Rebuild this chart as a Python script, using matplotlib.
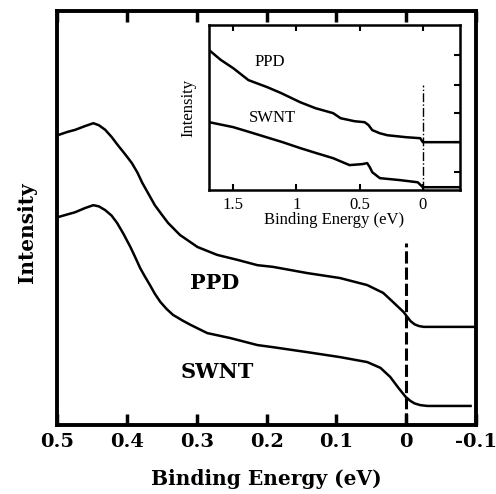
import matplotlib
matplotlib.use("Agg")
import matplotlib.pyplot as plt

# main panel: binding energy (eV) and intensity (arb. units)
ppd_e = [0.499, 0.485, 0.474, 0.460, 0.448, 0.440, 0.431, 0.422, 0.413, 0.403,
         0.393, 0.385, 0.378, 0.369, 0.360, 0.350, 0.341, 0.324,
         0.299, 0.271, 0.242, 0.213, 0.191, 0.142, 0.095, 0.056, 0.033, 0.019,
         0.004, -0.006, -0.012, -0.018, -0.025, -0.100]
ppd_i = [7.00, 7.08, 7.13, 7.22, 7.29, 7.24, 7.13, 6.96, 6.76, 6.55,
         6.33, 6.10, 5.85, 5.58, 5.31, 5.08, 4.88, 4.59,
         4.30, 4.11, 3.99, 3.86, 3.82, 3.67, 3.55, 3.38, 3.19, 2.97,
         2.73, 2.51, 2.43, 2.39, 2.37, 2.37]

swnt_e = [0.499, 0.474, 0.460, 0.448, 0.440, 0.431, 0.422, 0.414, 0.405, 0.395,
          0.388, 0.381, 0.374, 0.367, 0.360, 0.352, 0.343, 0.334,
          0.320, 0.309, 0.285, 0.252, 0.213, 0.191, 0.142, 0.095, 0.056, 0.037,
          0.023, 0.011, 0.001, -0.006, -0.012, -0.020, -0.030, -0.092]
swnt_i = [5.02, 5.14, 5.24, 5.31, 5.28, 5.19, 5.06, 4.88, 4.62, 4.30,
          4.05, 3.79, 3.58, 3.38, 3.17, 2.97, 2.80, 2.66,
          2.52, 2.42, 2.22, 2.10, 1.93, 1.88, 1.76, 1.64, 1.52, 1.38,
          1.16, 0.89, 0.68, 0.58, 0.52, 0.48, 0.46, 0.46]

# inset: wide range
ppd_e_in = [1.69, 1.60, 1.50, 1.38, 1.23, 1.12, 0.97, 0.85, 0.71, 0.65, 0.54,
            0.46, 0.43, 0.40, 0.34, 0.28, 0.13, 0.02, 0.0, -0.29]
ppd_i_in = [8.48, 7.90, 7.39, 6.67, 6.24, 5.88, 5.33, 4.97, 4.67, 4.36, 4.18,
            4.12, 3.95, 3.64, 3.45, 3.33, 3.21, 3.15, 2.91, 2.91]
swnt_e_in = [1.69, 1.50, 1.37, 1.11, 0.97, 0.84, 0.71, 0.58, 0.48, 0.44,
             0.42, 0.40, 0.34, 0.18, 0.04, 0.0, -0.29]
swnt_i_in = [4.12, 3.82, 3.52, 2.91, 2.55, 2.24, 1.94, 1.52, 1.58, 1.64,
             1.40, 1.09, 0.73, 0.61, 0.48, 0.18, 0.18]

main_ticks = [0.5, 0.4, 0.3, 0.2, 0.1, 0.0, -0.1]
main_ticklabels = ["0.5", "0.4", "0.3", "0.2", "0.1", "0", "-0.1"]
inset_ticks = [1.5, 1.0, 0.5, 0.0]
inset_ticklabels = ["1.5", "1", "0.5", "0"]

bold = dict(family="DejaVu Serif", weight="bold")
thin = dict(family="Liberation Serif")

fig = plt.figure(figsize=(4.96, 4.94), dpi=100)
ax = fig.add_axes([0.115, 0.1397, 0.845, 0.838])

ax.plot(ppd_e, ppd_i, color="black", lw=1.8)
ax.plot(swnt_e, swnt_i, color="black", lw=1.8)
ax.axvline(0, ymin=0, ymax=0.44, color="black", lw=2.2, ls=(0, (4, 1.3)))

ax.set_xlim(0.5, -0.1)
ax.set_ylim(0, 10)
ax.set_xticks(main_ticks)
ax.set_xticklabels(main_ticklabels, fontsize=14, **bold)
ax.set_yticks([])
ax.tick_params(axis="x", direction="in", length=8, width=2.5, top=True, pad=6)
for s in ax.spines.values():
    s.set_linewidth(2.8)
ax.set_xlabel("Binding Energy (eV)", fontsize=14.5, labelpad=13, **bold)
ax.set_ylabel("Intensity", fontsize=14.5, **bold)
ax.yaxis.set_label_coords(-0.048, 0.465)

ax.text(0.274, 3.43, "PPD", ha="center", va="center", fontsize=15, **bold)
ax.text(0.271, 1.28, "SWNT", ha="center", va="center", fontsize=15, **bold)

# inset
ins = fig.add_axes([0.421, 0.615, 0.506, 0.334])
ins.plot(ppd_e_in, ppd_i_in, color="black", lw=1.8)
ins.plot(swnt_e_in, swnt_i_in, color="black", lw=1.8)
ins.axvline(0, ymin=0, ymax=0.64, color="black", lw=1.0, ls="-.")
ins.set_xlim(1.694, -0.293)
ins.set_ylim(0, 10)
ins.set_xticks(inset_ticks)
ins.set_xticklabels(inset_ticklabels, fontsize=12, **thin)
ins.yaxis.tick_right()
ins.set_yticks([1.1, 2.9, 4.65, 6.4, 8.2])
ins.set_yticklabels([])
ins.tick_params(axis="x", direction="in", length=4, width=1.5, top=True, pad=5)
ins.tick_params(axis="y", direction="in", length=4, width=1.5, right=True, left=False)
for s in ins.spines.values():
    s.set_linewidth(1.8)
ins.set_xlabel("Binding Energy (eV)", fontsize=12, labelpad=-1, **thin)
ins.set_ylabel("Intensity", fontsize=12, labelpad=9, **thin)
ins.yaxis.set_label_position("left")
ins.text(1.21, 7.76, "PPD", ha="center", va="center", fontsize=12, **thin)
ins.text(1.19, 4.36, "SWNT", ha="center", va="center", fontsize=12, **thin)

fig.savefig("out.png", dpi=100)
